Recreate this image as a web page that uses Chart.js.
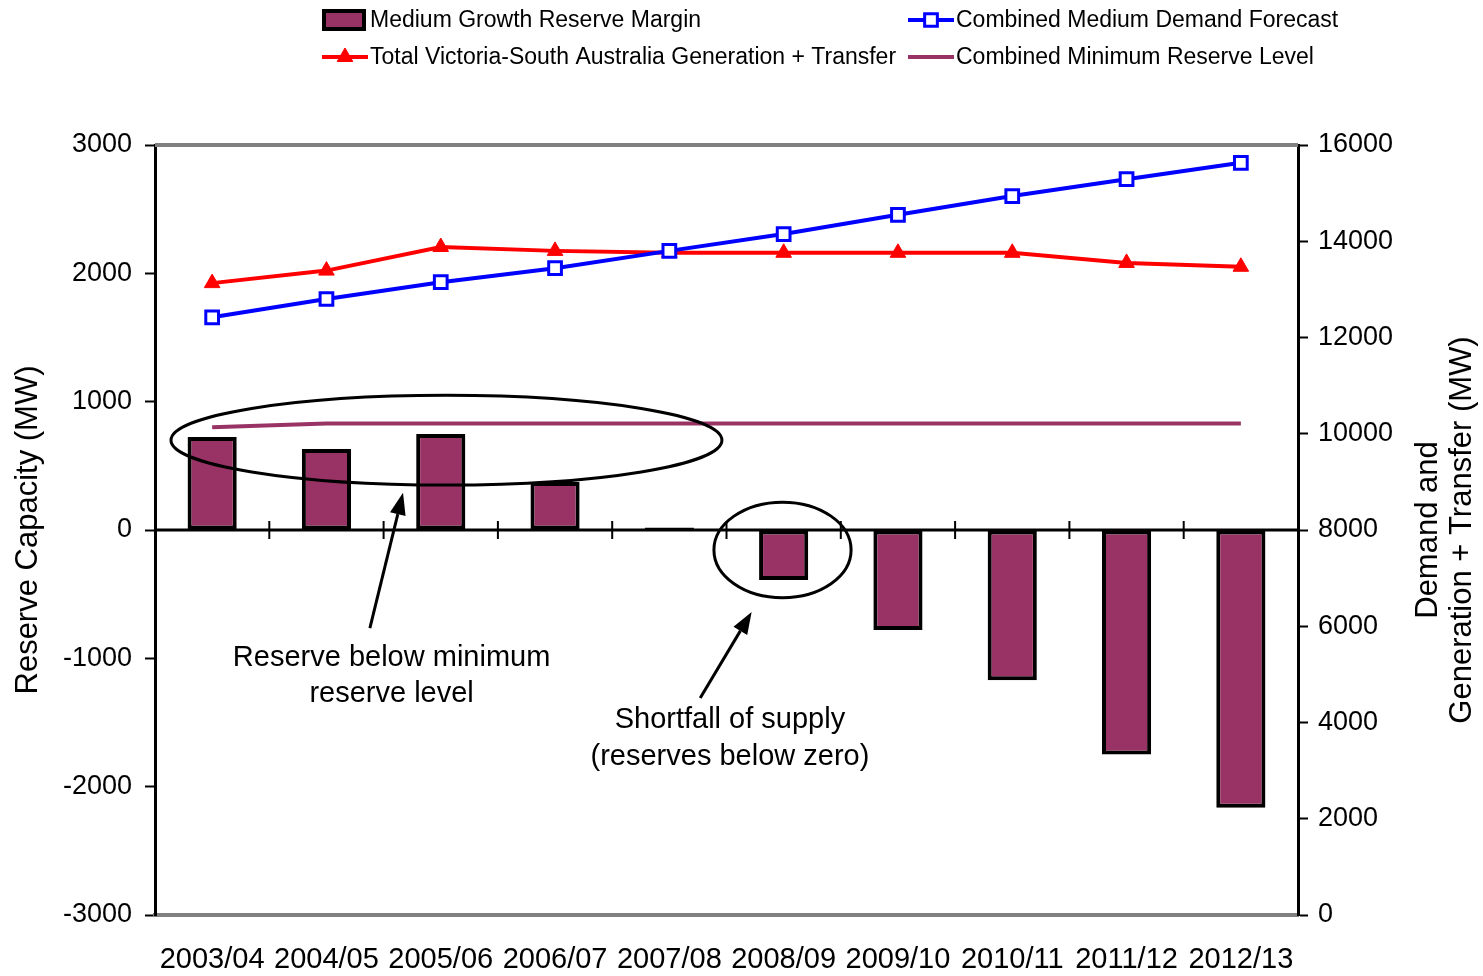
<!DOCTYPE html>
<html>
<head>
<meta charset="utf-8">
<title>Reserve Capacity</title>
<script src="https://cdn.jsdelivr.net/npm/chart.js@4/dist/chart.umd.min.js"></script>
<style>
  html, body { margin: 0; padding: 0; background: #fff; }
  #wrap { width: 1483px; height: 976px; }
</style>
</head>
<body>
<div id="wrap"><canvas id="chart" width="1483" height="976"></canvas></div>
<script>
// data
const years = ['2003/04', '2004/05', '2005/06', '2006/07', '2007/08', '2008/09', '2009/10', '2010/11', '2011/12', '2012/13'];
const reserveMargin = [725, 631, 748, 374, 20, -390, -780, -1170, -1750, -2165];
const minReserveLevel = [800, 830, 830, 830, 830, 830, 830, 830, 830, 830];
const demandForecast = [12420, 12800, 13150, 13440, 13800, 14150, 14550, 14940, 15290, 15630];
const generationTransfer = [13130, 13390, 13880, 13800, 13760, 13760, 13760, 13760, 13550, 13470];
const reserveTicks = [-3000, -2000, -1000, 0, 1000, 2000, 3000];
const demandTicks = [0, 2000, 4000, 6000, 8000, 10000, 12000, 14000, 16000];

// notes on the chart, in category index / reserve (MW) units
const ellipses = [
  { x: 2.05, y: 700, rx: 2.41, ry: 350 },
  { x: 4.99, y: -155, rx: 0.60, ry: 372 }
];
const arrows = [
  { x1: 1.38, y1: -764, x2: 1.67, y2: 290 },
  { x1: 4.27, y1: -1309, x2: 4.72, y2: -639 }
];
const notes = [
  { x: 1.57, y: -997, text: 'Reserve below minimum' },
  { x: 1.57, y: -1278, text: 'reserve level' },
  { x: 4.53, y: -1480, text: 'Shortfall of supply' },
  { x: 4.53, y: -1769, text: '(reserves below zero)' }
];

const FONT = '"Liberation Sans", Arial, sans-serif';
const PURPLE = '#993366';
const GREY = '#808080';

// frame pieces: top border, zero line, category ticks on the zero line
const framePlugin = {
  id: 'frame',
  beforeDatasetsDraw(chart) {
    const { ctx, chartArea: a, scales } = chart;
    const y0 = scales.y.getPixelForValue(0);
    ctx.save();
    ctx.strokeStyle = GREY;
    ctx.lineWidth = 4;
    ctx.beginPath();
    ctx.moveTo(a.left, a.top);
    ctx.lineTo(a.right, a.top);
    ctx.stroke();

    ctx.strokeStyle = '#000';
    ctx.lineWidth = 3;
    ctx.beginPath();
    ctx.moveTo(a.left, y0);
    ctx.lineTo(a.right, y0);
    ctx.stroke();

    ctx.lineWidth = 2;
    for (let i = 1; i < years.length; i++) {
      const x = (scales.x.getPixelForValue(i - 1) + scales.x.getPixelForValue(i)) / 2;
      ctx.beginPath();
      ctx.moveTo(x, y0 - 9);
      ctx.lineTo(x, y0 + 9);
      ctx.stroke();
    }
    ctx.restore();
  },
  afterDraw(chart) {
    const { ctx, chartArea: a, scales } = chart;
    const px = v => scales.x.getPixelForValue(0) + v * (scales.x.getPixelForValue(1) - scales.x.getPixelForValue(0));
    const py = v => scales.y.getPixelForValue(v);
    const unitY = scales.y.getPixelForValue(0) - scales.y.getPixelForValue(1);
    const unitX = scales.x.getPixelForValue(1) - scales.x.getPixelForValue(0);

    ctx.save();
    ctx.strokeStyle = '#000';
    ctx.fillStyle = '#000';
    ctx.lineWidth = 3;
    ellipses.forEach(e => {
      ctx.beginPath();
      ctx.ellipse(px(e.x), py(e.y), e.rx * unitX, e.ry * unitY, 0, 0, Math.PI * 2);
      ctx.stroke();
    });

    arrows.forEach(ar => {
      const x1 = px(ar.x1), y1 = py(ar.y1), x2 = px(ar.x2), y2 = py(ar.y2);
      const ang = Math.atan2(y2 - y1, x2 - x1);
      const len = 22, half = 8;
      const bx = x2 - len * Math.cos(ang), by = y2 - len * Math.sin(ang);
      ctx.beginPath();
      ctx.moveTo(x1, y1);
      ctx.lineTo(bx, by);
      ctx.stroke();
      ctx.beginPath();
      ctx.moveTo(x2, y2);
      ctx.lineTo(bx + half * Math.sin(ang), by - half * Math.cos(ang));
      ctx.lineTo(bx - half * Math.sin(ang), by + half * Math.cos(ang));
      ctx.closePath();
      ctx.fill();
    });

    ctx.font = '29px ' + FONT;
    ctx.textAlign = 'center';
    ctx.textBaseline = 'middle';
    notes.forEach(n => ctx.fillText(n.text, px(n.x), py(n.y)));

    // axis titles
    ctx.font = '31px ' + FONT;
    const midY = (a.top + a.bottom) / 2;
    const titles = [
      { x: a.left - 127, text: 'Reserve Capacity (MW)' },
      { x: a.right + 130, text: 'Demand and' },
      { x: a.right + 164, text: 'Generation + Transfer (MW)' }
    ];
    titles.forEach(t => {
      ctx.save();
      ctx.translate(t.x, midY);
      ctx.rotate(-Math.PI / 2);
      ctx.fillText(t.text, 0, 0);
      ctx.restore();
    });

    // legend, two columns
    const ds = chart.data.datasets;
    const items = [
      { d: ds[0], x: 322, y: 20, kind: 'box' },
      { d: ds[2], x: 908, y: 20, kind: 'line' },
      { d: ds[3], x: 322, y: 57, kind: 'line' },
      { d: ds[1], x: 908, y: 57, kind: 'line' }
    ];
    ctx.font = '23px ' + FONT;
    ctx.textAlign = 'left';
    items.forEach(it => {
      const d = it.d;
      if (it.kind === 'box') {
        ctx.fillStyle = '#000';
        ctx.fillRect(it.x, it.y - 11, 44, 22);
        ctx.fillStyle = d.backgroundColor;
        ctx.fillRect(it.x + 4, it.y - 7, 36, 14);
      } else {
        ctx.strokeStyle = d.borderColor;
        ctx.lineWidth = 4;
        ctx.beginPath();
        ctx.moveTo(it.x, it.y);
        ctx.lineTo(it.x + 46, it.y);
        ctx.stroke();
        if (d.pointRadius) {
          ctx.fillStyle = d.pointBackgroundColor;
          ctx.strokeStyle = d.pointBorderColor;
          ctx.lineWidth = d.pointBorderWidth;
          ctx.beginPath();
          if (d.pointStyle === 'rect') {
            const s = d.pointRadius * Math.SQRT1_2;
            ctx.rect(it.x + 23 - s, it.y - s, 2 * s, 2 * s);
          } else {
            const r = d.pointRadius;
            ctx.moveTo(it.x + 23, it.y - r);
            ctx.lineTo(it.x + 23 + r * 0.866, it.y + r * 0.5);
            ctx.lineTo(it.x + 23 - r * 0.866, it.y + r * 0.5);
            ctx.closePath();
          }
          ctx.fill();
          ctx.stroke();
        }
      }
      ctx.fillStyle = '#000';
      ctx.fillText(d.label, it.x + 48, it.y + 1);
    });
    ctx.restore();
  }
};

new Chart(document.getElementById('chart'), {
  data: {
    labels: years,
    datasets: [
      {
        type: 'bar',
        label: 'Medium Growth Reserve Margin',
        data: reserveMargin,
        yAxisID: 'y',
        backgroundColor: PURPLE,
        borderColor: '#000',
        borderWidth: 4,
        borderSkipped: false,
        categoryPercentage: 1,
        barPercentage: 0.43,
        order: 2
      },
      {
        type: 'line',
        label: 'Combined Minimum Reserve Level',
        data: minReserveLevel,
        yAxisID: 'y',
        borderColor: PURPLE,
        backgroundColor: PURPLE,
        borderWidth: 4,
        pointRadius: 0,
        tension: 0,
        order: 1
      },
      {
        type: 'line',
        label: 'Combined Medium Demand Forecast',
        data: demandForecast,
        yAxisID: 'y1',
        borderColor: '#0000FF',
        backgroundColor: '#0000FF',
        borderWidth: 4,
        pointStyle: 'rect',
        pointRadius: 9,
        pointBorderWidth: 3,
        pointBorderColor: '#0000FF',
        pointBackgroundColor: '#FFFFFF',
        tension: 0,
        order: 0
      },
      {
        type: 'line',
        label: 'Total Victoria-South Australia Generation + Transfer',
        data: generationTransfer,
        yAxisID: 'y1',
        borderColor: '#FF0000',
        backgroundColor: '#FF0000',
        borderWidth: 4,
        pointStyle: 'triangle',
        pointRadius: 9,
        pointBorderWidth: 1,
        pointBorderColor: '#FF0000',
        pointBackgroundColor: '#FF0000',
        tension: 0,
        order: 0
      }
    ]
  },
  options: {
    responsive: false,
    animation: false,
    layout: { padding: { top: 145, left: 0, right: 0, bottom: 0 } },
    plugins: {
      legend: { display: false },
      tooltip: { enabled: false }
    },
    scales: {
      x: {
        offset: true,
        grid: { display: false, drawTicks: false },
        border: { display: true, color: GREY, width: 4 },
        ticks: {
          color: '#000',
          padding: 28,
          maxRotation: 0,
          autoSkip: false,
          font: { family: FONT, size: 29 }
        },
        afterFit: s => { s.height = 61; }
      },
      y: {
        position: 'left',
        min: -3000,
        max: 3000,
        afterBuildTicks: s => { s.ticks = reserveTicks.map(v => ({ value: v })); },
        grid: { drawOnChartArea: false, tickLength: 10, tickColor: '#000', tickWidth: 2 },
        border: { display: true, color: '#000', width: 3 },
        ticks: {
          color: '#000',
          padding: 13,
          font: { family: FONT, size: 27 },
          callback: v => String(v)
        },
        afterFit: s => { s.width = 155; }
      },
      y1: {
        position: 'right',
        min: 0,
        max: 16000,
        afterBuildTicks: s => { s.ticks = demandTicks.map(v => ({ value: v })); },
        grid: { drawOnChartArea: false, tickLength: 10, tickColor: '#000', tickWidth: 2 },
        border: { display: true, color: '#000', width: 3 },
        ticks: {
          color: '#000',
          padding: 10,
          font: { family: FONT, size: 27 },
          callback: v => String(v)
        },
        afterFit: s => { s.width = 185; }
      }
    }
  },
  plugins: [framePlugin]
});
</script>
</body>
</html>
